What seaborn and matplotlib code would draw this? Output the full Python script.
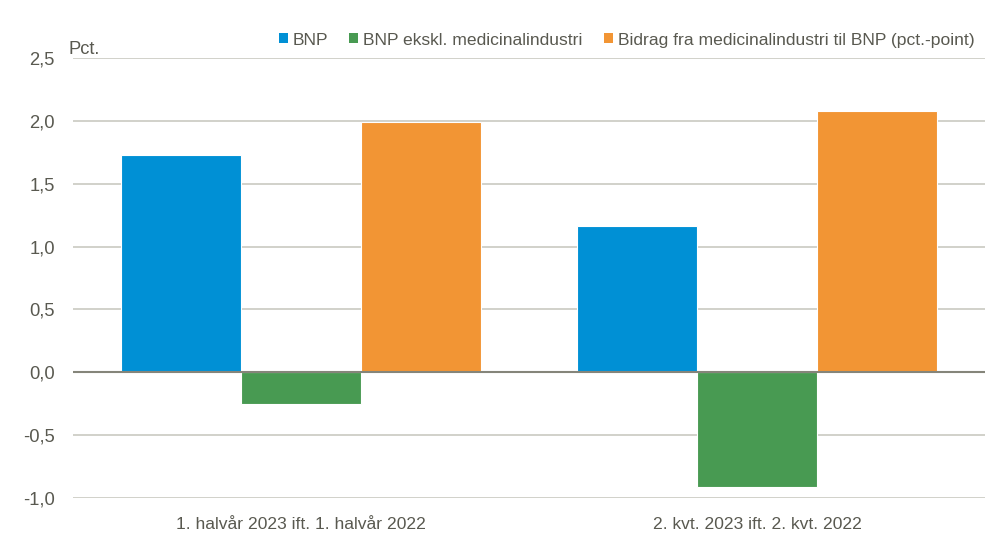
import numpy as np
import pandas as pd
import matplotlib
matplotlib.use("Agg")
import matplotlib.pyplot as plt
import seaborn as sns
from matplotlib.patches import Patch
from matplotlib import font_manager

categories = ["1. halvår 2023 ift. 1. halvår 2022", "2. kvt. 2023 ift. 2. kvt. 2022"]
series = ["BNP", "BNP ekskl. medicinalindustri", "Bidrag fra medicinalindustri til BNP (pct.-point)"]
bnp = [1.73, 1.16]
bnp_ex = [-0.25, -0.91]
bidrag = [1.99, 2.08]
colors = ["#0090D5", "#489A52", "#F29534"]

sns.set_style("white")
names = {f.name for f in font_manager.fontManager.ttflist}
fam = "Liberation Sans Narrow" if "Liberation Sans Narrow" in names else "Liberation Sans"
plt.rcParams["font.family"] = [fam, "DejaVu Sans"]
txt = "#595950"
fs = 12.6

df = pd.DataFrame({
    "kategori": categories * 3,
    "serie": [series[0]] * 2 + [series[1]] * 2 + [series[2]] * 2,
    "værdi": bnp + bnp_ex + bidrag,
})

fig = plt.figure(figsize=(9.85, 5.33), dpi=100)
ax = fig.add_axes([0.074, 0.066, 0.926, 0.825])
sns.barplot(data=df, x="kategori", y="værdi", hue="serie", palette=colors,
            saturation=1, width=0.79, ax=ax, legend=False,
            edgecolor="white", linewidth=0.8)

ax.set_ylim(-1.0, 2.5)
ax.set_yticks(np.arange(-1.0, 2.51, 0.5))
ax.set_yticklabels([f"{v:.1f}".replace(".", ",") for v in np.arange(-1.0, 2.51, 0.5)])
ax.yaxis.grid(True, color="#c9c9c1", linewidth=1.2)
ax.set_axisbelow(True)
ax.axhline(0, color="#85857a", linewidth=1.5, zorder=3)
for s in ax.spines.values():
    s.set_visible(False)
ax.tick_params(axis="both", length=0, labelsize=fs + 0.6, colors=txt)
ax.tick_params(axis="x", pad=14, labelsize=fs)
ax.tick_params(axis="y", pad=13)
ax.set_xlabel("")
ax.set_ylabel("")

ax.text(-0.005, 1.0, "Pct.", transform=ax.transAxes, ha="left", va="bottom",
        fontsize=fs + 0.6, color=txt)

handles = [Patch(facecolor=c, edgecolor="none") for c in colors]
leg = ax.legend(handles, series, loc="lower right", bbox_to_anchor=(1.0, 1.0),
                ncol=3, frameon=False, fontsize=fs, handlelength=0.5,
                handleheight=0.5, handletextpad=0.3, columnspacing=1.2,
                borderaxespad=0.2)
for t in leg.get_texts():
    t.set_color(txt)

fig.savefig("out.png", dpi=100)
